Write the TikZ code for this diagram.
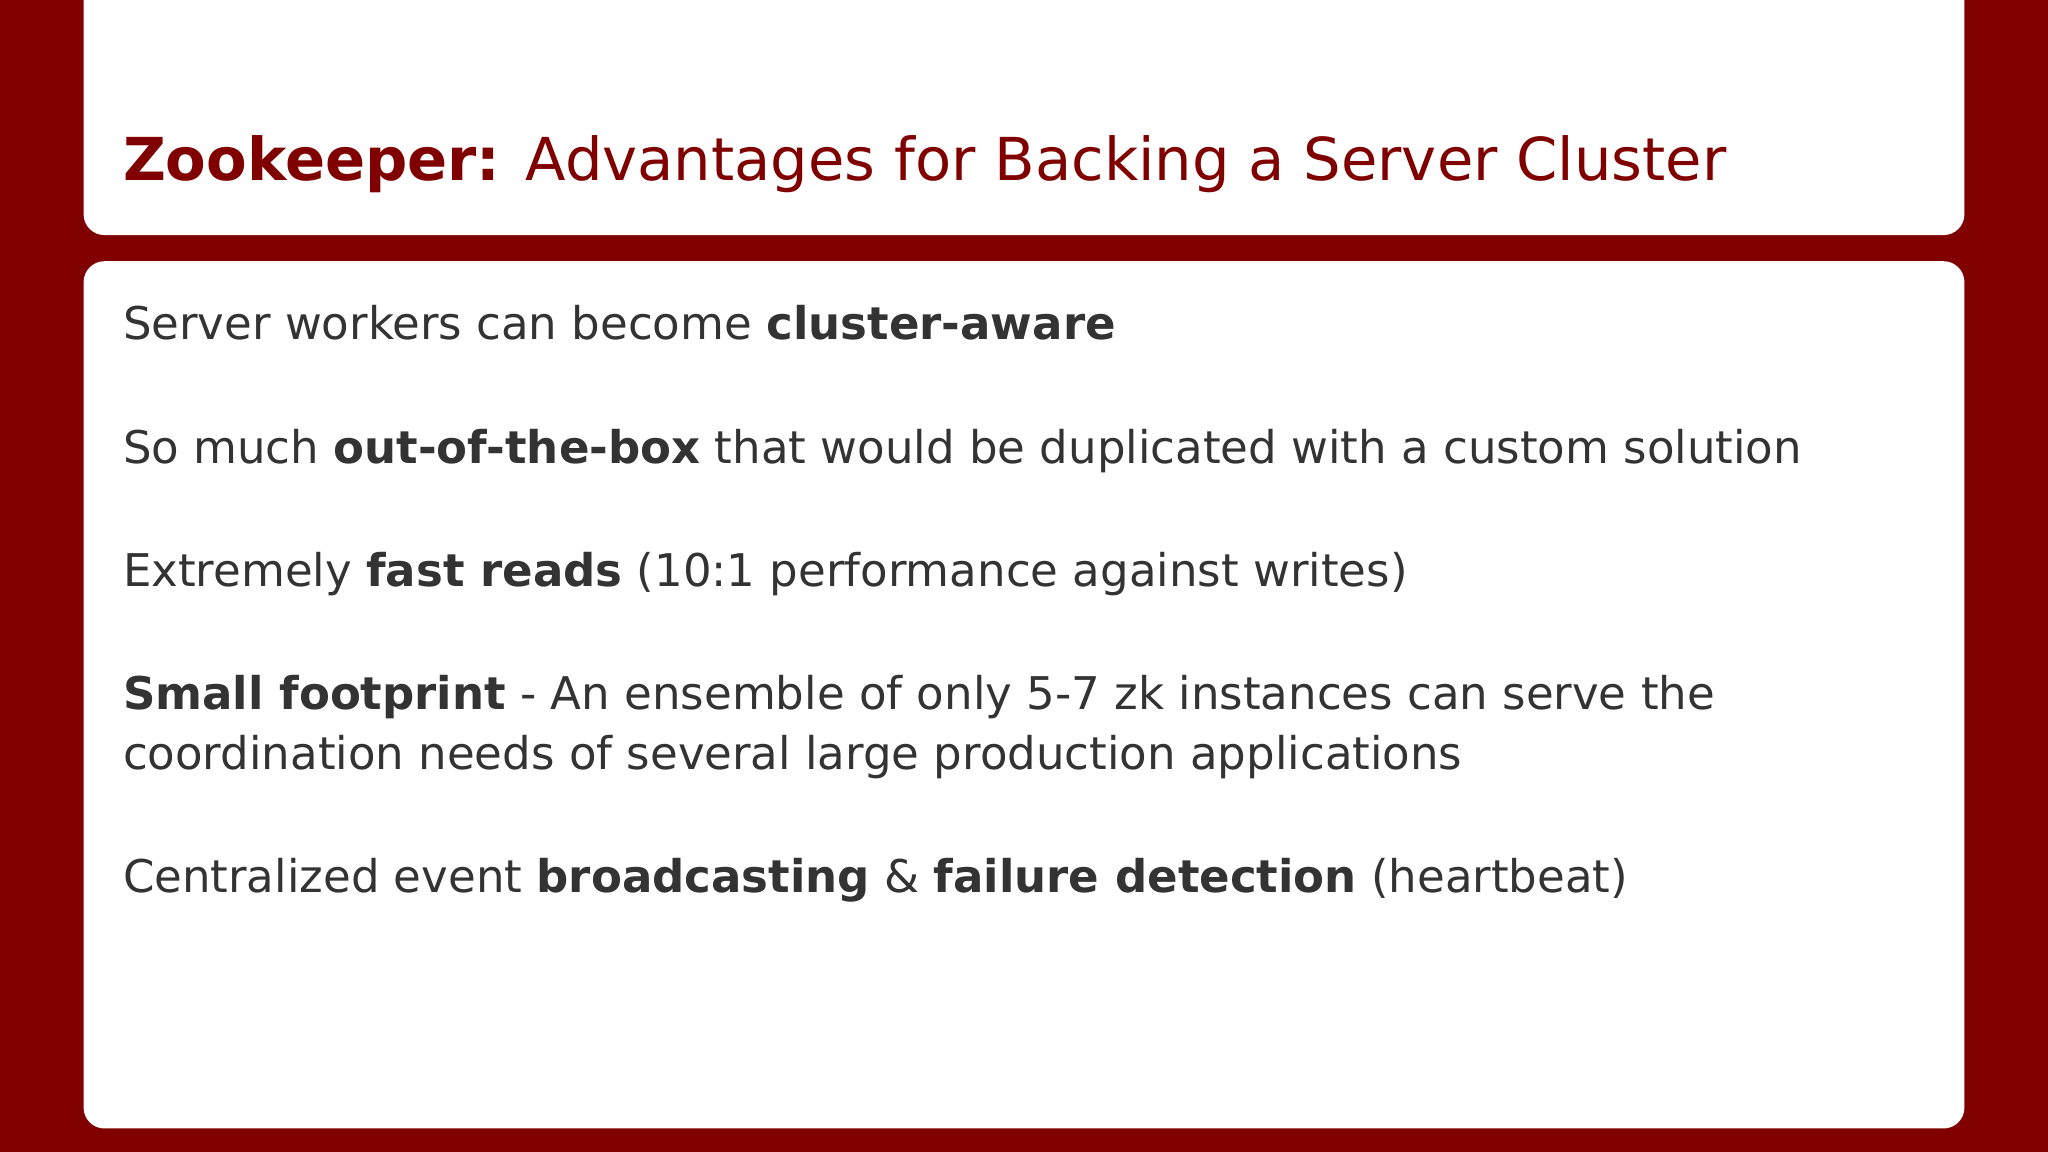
\documentclass[tikz,border=0pt]{standalone}
\usepackage{fontspec}
\setmainfont{DejaVu Sans}
\definecolor{bgred}{HTML}{800000}
\definecolor{txt}{HTML}{333333}
\tikzset{line/.style={anchor=base west,inner sep=0pt,text=txt,font=\fontsize{34.5}{40}\selectfont}}
\begin{document}
\begin{tikzpicture}[x=1pt,y=-1pt]
\fill[bgred] (0,0) rectangle (1568,882);
\useasboundingbox (0,0) rectangle (1568,882);
\fill[white,rounded corners=16pt] (64,-30) rectangle (1504,180);
\fill[white,rounded corners=16pt] (64,200) rectangle (1504,864);
\node[anchor=base west,inner sep=0pt,text=bgred,font=\fontsize{45.3}{52}\selectfont] (title) at (94,138) {\textbf{Zookeeper:} Advantages for Backing a Server Cluster};
\node[line] (l1) at (94,260) {Server workers can become \textbf{cluster-aware}};
\node[line] (l2) at (94,355) {So much \textbf{out-of-the-box} that would be duplicated with a custom solution};
\node[line] (l3) at (94,449) {Extremely \textbf{fast reads} (10:1 performance against writes)};
\node[line] (l4) at (94,543) {\textbf{Small footprint} - An ensemble of only 5-7 zk instances can serve the};
\node[line] (l5) at (94,589) {coordination needs of several large production applications};
\node[line] (l6) at (94,683) {Centralized event \textbf{broadcasting} \& \textbf{failure detection} (heartbeat)};
\end{tikzpicture}
\end{document}
